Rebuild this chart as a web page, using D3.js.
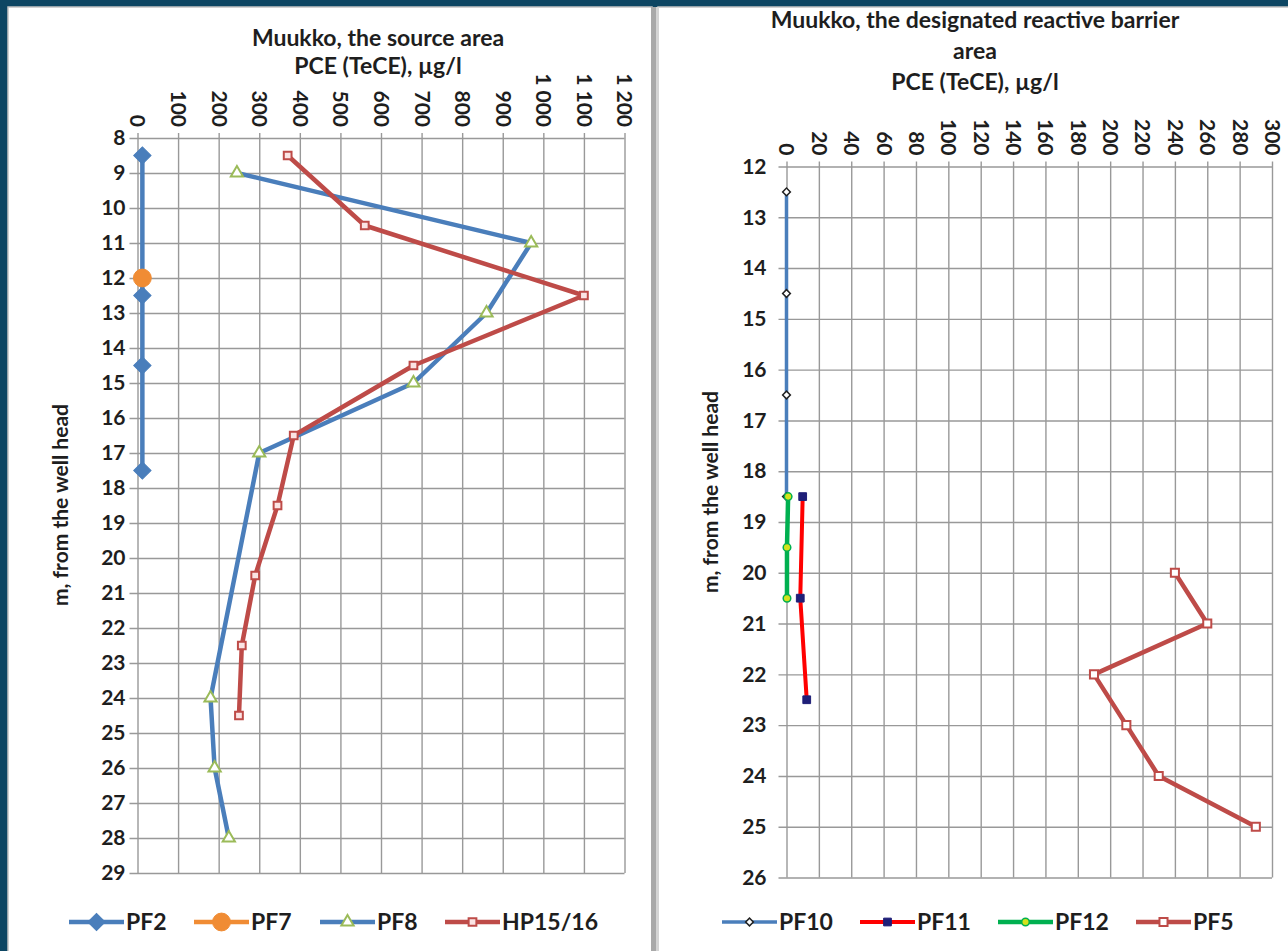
<!DOCTYPE html>
<html>
<head>
<meta charset="utf-8">
<script src="https://cdn.jsdelivr.net/npm/d3@7"></script>
<style>
  html, body { margin: 0; padding: 0; background: #0d4663; }
  svg { display: block; }
  text { font-family: Lato, "Liberation Sans", sans-serif; font-weight: bold; fill: #1e1e1e; }
</style>
</head>
<body>
<div id="chart"></div>
<script>
// left chart: Muukko, the source area
const leftTitle = ["Muukko, the source area", "PCE (TeCE), µg/l"];
const leftXTicks = [0, 100, 200, 300, 400, 500, 600, 700, 800, 900, 1000, 1100, 1200];
const leftYTicks = d3.range(8, 30);
const pf2Depth = [8.5, 12.5, 14.5, 17.5];
const pf2Value = [12, 12, 12, 12];
const pf7Depth = [12];
const pf7Value = [12];
const pf8Depth = [9, 11, 13, 15, 17, 24, 26, 28];
const pf8Value = [245, 970, 860, 680, 300, 180, 190, 225];
const hpDepth = [8.5, 10.5, 12.5, 14.5, 16.5, 18.5, 20.5, 22.5, 24.5];
const hpValue = [370, 560, 1100, 680, 385, 345, 290, 257, 250];

// right chart: the designated reactive barrier area
const rightTitle = ["Muukko, the designated reactive barrier", "area", "PCE (TeCE), µg/l"];
const rightXTicks = d3.range(0, 301, 20);
const rightYTicks = d3.range(12, 27);
const pf10Depth = [12.5, 14.5, 16.5, 18.5];
const pf10Value = [0, 0, 0, 0];
const pf11Depth = [18.5, 20.5, 22.5];
const pf11Value = [10, 8.5, 12.5];
const pf12Depth = [18.5, 19.5, 20.5];
const pf12Value = [1, 0.3, 0.3];
const pf5Depth = [20, 21, 22, 23, 24, 25];
const pf5Value = [240, 260, 190, 210, 230, 290];

const yTitle = "m, from the well head";

const W = 1288, H = 951;
const fmt = d3.formatLocale({ decimal: ",", thousands: " ", grouping: [3], currency: ["", ""] }).format(",d");

const svg = d3.select("#chart").append("svg")
    .attr("width", W)
    .attr("height", H);

svg.append("rect").attr("width", W).attr("height", H).attr("fill", "#0d4663");

// panels
svg.append("rect").attr("x", 8).attr("y", 7).attr("width", 644).attr("height", H)
    .attr("fill", "#fff").attr("stroke", "#c4c4c4").attr("stroke-width", 1.5);
svg.append("rect").attr("x", 658).attr("y", 7).attr("width", 640).attr("height", H)
    .attr("fill", "#fff").attr("stroke", "#c4c4c4").attr("stroke-width", 1.5);
svg.append("rect").attr("x", 651).attr("y", 7).attr("width", 5).attr("height", H).attr("fill", "#a9a9a9");
svg.append("rect").attr("x", 656).attr("y", 7).attr("width", 3).attr("height", H).attr("fill", "#d4d4d4");

function drawChart(opt) {
  const x = d3.scaleLinear().domain(opt.xDomain).range([opt.x0, opt.x1]);
  const y = d3.scaleLinear().domain(opt.yDomain).range([opt.y0, opt.y1]);
  const g = svg.append("g");

  // vertical grid + rotated labels on top
  const xAxis = g.append("g")
      .attr("transform", `translate(0,${opt.y0})`)
      .call(d3.axisTop(x).tickValues(opt.xTicks).tickFormat(fmt)
        .tickSizeInner(-(opt.y1 - opt.y0)).tickSizeOuter(0));
  xAxis.select(".domain").remove();
  xAxis.selectAll(".tick line").attr("stroke", "#999").attr("stroke-width", 1.4)
      .attr("y1", -5);
  xAxis.selectAll(".tick text")
      .attr("transform", "rotate(90)")
      .attr("x", -11).attr("y", 0).attr("dy", "0.36em")
      .style("text-anchor", "end")
      .style("font-size", "21px")
      .style("font-family", "Lato, sans-serif");

  // horizontal grid + depth labels
  const yAxis = g.append("g")
      .attr("transform", `translate(${opt.x0},0)`)
      .call(d3.axisLeft(y).tickValues(opt.yTicks)
        .tickSizeInner(-(opt.x1 - opt.x0)).tickSizeOuter(0).tickPadding(opt.yPad));
  yAxis.select(".domain").remove();
  yAxis.selectAll(".tick line").attr("stroke", "#999").attr("stroke-width", 1.4)
      .attr("x2", opt.x1 - opt.x0).attr("x1", -8);
  yAxis.selectAll(".tick text")
      .style("font-size", "21px")
      .style("font-family", "Lato, sans-serif");

  // titles
  g.selectAll(".ctitle").data(opt.title).enter().append("text")
      .attr("class", "ctitle")
      .attr("x", opt.titleX)
      .attr("y", (d, i) => opt.titleY + i * opt.titleGap)
      .attr("text-anchor", "middle")
      .style("font-size", "23px")
      .text(d => d);

  g.append("text")
      .attr("transform", `translate(${opt.yTitleX},${opt.yTitleY}) rotate(-90)`)
      .attr("text-anchor", "middle")
      .style("font-size", "21px")
      .text(yTitle);

  const line = d3.line().x(d => x(d[1])).y(d => y(d[0]));

  opt.series.forEach(s => {
    const pts = d3.zip(s.depth, s.value);
    if (pts.length > 1) {
      g.append("path").datum(pts)
          .attr("d", line)
          .attr("fill", "none")
          .attr("stroke", s.color)
          .attr("stroke-width", s.width)
          .attr("stroke-linejoin", "round");
    }
    g.selectAll(null).data(pts).enter().append("path")
        .attr("transform", d => `translate(${x(d[1])},${y(d[0])}) rotate(${s.rot || 0})`)
        .attr("d", d3.symbol().type(s.symbol).size(s.size))
        .attr("fill", s.fill)
        .attr("stroke", s.stroke)
        .attr("stroke-width", s.sw);
  });

  // legend
  const lg = g.append("g").attr("transform", `translate(0,${opt.legendY})`);
  opt.series.forEach((s, i) => {
    const lx = opt.legendX[i];
    lg.append("line").attr("x1", lx).attr("x2", lx + 55)
        .attr("stroke", s.color).attr("stroke-width", s.width);
    lg.append("path")
        .attr("transform", `translate(${lx + 27.5},0) rotate(${s.rot || 0})`)
        .attr("d", d3.symbol().type(s.symbol).size(s.size))
        .attr("fill", s.fill).attr("stroke", s.stroke).attr("stroke-width", s.sw);
    lg.append("text").attr("x", lx + 57).attr("dy", "0.36em")
        .style("font-size", "23px")
        .text(s.name);
  });
}

drawChart({
  xDomain: [0, 1200], yDomain: [8, 29],
  x0: 137.5, x1: 624.5, y0: 138, y1: 873,
  xTicks: leftXTicks, yTicks: leftYTicks, yPad: 12,
  title: leftTitle, titleX: 378, titleY: 46, titleGap: 28,
  yTitleX: 68, yTitleY: 505,
  legendY: 922, legendX: [69, 194, 320, 445],
  series: [
    { name: "PF2", depth: pf2Depth, value: pf2Value, color: "#4a7ebb", width: 4.5,
      symbol: d3.symbolSquare, rot: 45, size: 150, fill: "#4a7ebb", stroke: "#4a7ebb", sw: 1 },
    { name: "PF7", depth: pf7Depth, value: pf7Value, color: "#f08c34", width: 4.5,
      symbol: d3.symbolCircle, size: 250, fill: "#f08c34", stroke: "#f08c34", sw: 1 },
    { name: "PF8", depth: pf8Depth, value: pf8Value, color: "#4a7ebb", width: 4.5,
      symbol: d3.symbolTriangle, size: 65, fill: "#fff", stroke: "#9bbb59", sw: 2 },
    { name: "HP15/16", depth: hpDepth, value: hpValue, color: "#be4b48", width: 4.5,
      symbol: d3.symbolSquare, size: 60, fill: "#fbe4e4", stroke: "#be4b48", sw: 2 }
  ]
});

drawChart({
  xDomain: [0, 300], yDomain: [12, 26],
  x0: 786.5, x1: 1272, y0: 166.5, y1: 877.5,
  xTicks: rightXTicks, yTicks: rightYTicks, yPad: 20,
  title: rightTitle, titleX: 975, titleY: 28, titleGap: 31,
  yTitleX: 718, yTitleY: 492,
  legendY: 922, legendX: [722, 860, 998, 1136],
  series: [
    { name: "PF10", depth: pf10Depth, value: pf10Value, color: "#4a7ebb", width: 3.5,
      symbol: d3.symbolSquare, rot: 45, size: 30, fill: "#fff", stroke: "#222", sw: 1.5 },
    { name: "PF11", depth: pf11Depth, value: pf11Value, color: "#ff0000", width: 4,
      symbol: d3.symbolSquare, size: 60, fill: "#1f1f78", stroke: "#1f1f78", sw: 1 },
    { name: "PF12", depth: pf12Depth, value: pf12Value, color: "#00b050", width: 4.5,
      symbol: d3.symbolCircle, size: 45, fill: "#d4e21c", stroke: "#00b050", sw: 1.5 },
    { name: "PF5", depth: pf5Depth, value: pf5Value, color: "#be4b48", width: 4.5,
      symbol: d3.symbolSquare, size: 65, fill: "#fff", stroke: "#be4b48", sw: 2 }
  ]
});
</script>
</body>
</html>
